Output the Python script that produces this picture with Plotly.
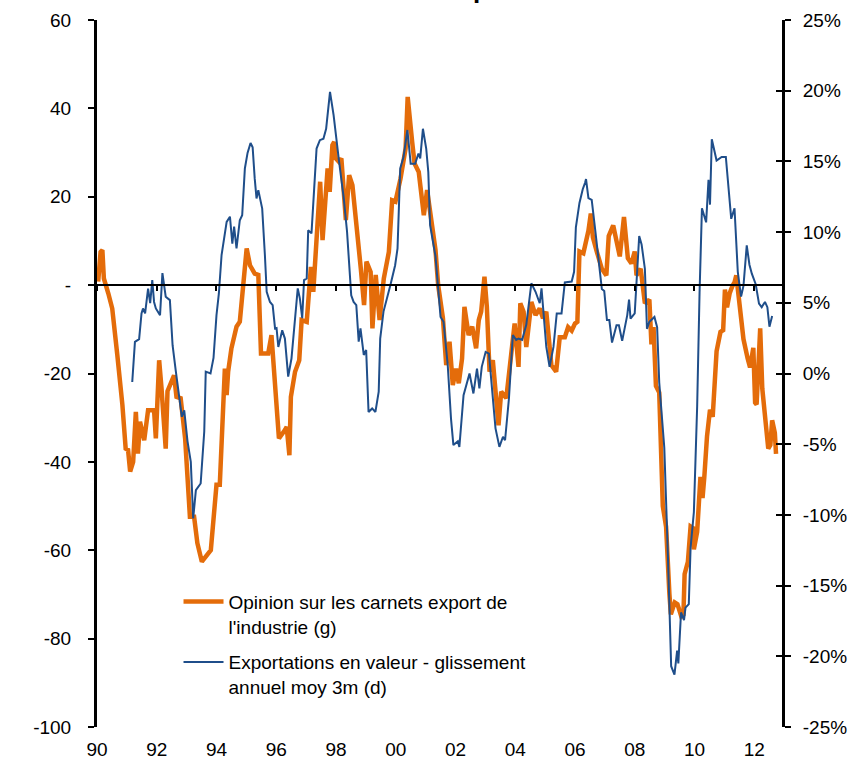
import plotly.graph_objects as go

# ---- Data (decimal years) ----
opinion_years = [1990.04, 1990.12, 1990.18, 1990.23, 1990.38, 1990.51, 1990.68, 1990.85, 1990.96, 1991.04,
    1991.11, 1991.21, 1991.30, 1991.37, 1991.44, 1991.58, 1991.71, 1991.91, 1991.97, 1992.08,
    1992.16, 1992.30, 1992.36, 1992.58, 1992.66, 1992.80, 1992.95, 1993.11, 1993.25, 1993.36,
    1993.51, 1993.70, 1993.81, 1994.00, 1994.11, 1994.28, 1994.34, 1994.39, 1994.50, 1994.67,
    1994.78, 1995.01, 1995.12, 1995.28, 1995.40, 1995.49, 1995.73, 1995.84, 1995.98, 1996.09,
    1996.29, 1996.35, 1996.44, 1996.49, 1996.63, 1996.77, 1996.85, 1997.02, 1997.16, 1997.24,
    1997.47, 1997.55, 1997.72, 1997.79, 1997.88, 1997.94, 1997.99, 1998.10, 1998.18, 1998.33,
    1998.44, 1998.55, 1998.83, 1998.94, 1999.02, 1999.16, 1999.22, 1999.33, 1999.46, 1999.60,
    1999.77, 1999.88, 1999.99, 2000.16, 2000.33, 2000.40, 2000.55, 2000.63, 2000.77, 2000.94,
    2001.05, 2001.22, 2001.33, 2001.42, 2001.58, 2001.69, 2001.80, 2001.91, 2002.02, 2002.11,
    2002.22, 2002.30, 2002.44, 2002.56, 2002.69, 2002.78, 2002.86, 2002.97, 2003.05, 2003.14,
    2003.25, 2003.44, 2003.53, 2003.70, 2003.83, 2003.98, 2004.11, 2004.17, 2004.28, 2004.37,
    2004.54, 2004.68, 2004.82, 2004.93, 2005.04, 2005.21, 2005.37, 2005.49, 2005.66, 2005.77,
    2005.89, 2006.00, 2006.08, 2006.15, 2006.28, 2006.45, 2006.53, 2006.60, 2006.73, 2006.90,
    2007.05, 2007.13, 2007.28, 2007.39, 2007.50, 2007.64, 2007.77, 2007.89, 2008.00, 2008.06,
    2008.20, 2008.34, 2008.49, 2008.56, 2008.63, 2008.71, 2008.82, 2008.94, 2009.05, 2009.16,
    2009.21, 2009.34, 2009.43, 2009.56, 2009.63, 2009.67, 2009.78, 2009.87, 2009.96, 2009.98,
    2010.09, 2010.20, 2010.27, 2010.33, 2010.42, 2010.52, 2010.61, 2010.74, 2010.87, 2010.96,
    2011.02, 2011.09, 2011.18, 2011.27, 2011.34, 2011.40, 2011.48, 2011.56, 2011.64, 2011.78,
    2011.86, 2011.97, 2012.03, 2012.08, 2012.20, 2012.27, 2012.36, 2012.47, 2012.54, 2012.60,
    2012.69, 2012.73]
opinion_values = [0.8, 7.5, 7.9, 1.5, -1.9, -5.3, -15.8, -27.1, -37.0, -37.3,
    -42.2, -40.0, -28.7, -38.1, -30.9, -35.1, -28.3, -28.3, -34.7, -17.0,
    -23.4, -37.0, -24.0, -20.4, -25.3, -25.6, -34.7, -52.4, -52.4, -58.4,
    -62.6, -60.7, -60.0, -45.2, -45.2, -18.9, -24.9, -19.6, -14.3, -9.4,
    -8.3, 8.3, 4.5, 2.6, 2.3, -15.5, -15.5, -11.3, -25.6, -34.7,
    -32.8, -32.1, -38.5, -25.3, -19.6, -17.0, -7.9, -8.3, 4.1, -1.5,
    23.4, 10.2, 26.4, 21.1, 31.7, 32.4, 28.7, 27.9, 28.7, 14.7,
    24.9, 22.6, 3.8, -4.5, 5.3, 3.0, -9.8, 2.3, -7.9, 1.5,
    7.5, 19.2, 18.9, 24.1, 30.9, 42.6, 32.4, 27.5, 25.6, 15.8,
    21.5, 13.6, 8.0, 0.0, -7.5, -18.1, -12.8, -22.6, -18.9, -22.2,
    -16.6, -4.9, -11.3, -9.4, -14.3, -7.9, -6.0, 1.9, -4.9, -19.6,
    -17.0, -31.7, -24.1, -25.6, -16.6, -8.7, -18.5, -4.1, -6.0, -14.0,
    -3.8, -6.8, -5.3, -7.5, -6.0, -18.1, -19.6, -11.8, -11.8, -9.5,
    -10.3, -8.7, -8.3, 7.6, 7.2, 12.3, 16.2, 10.8, 7.6, 3.7,
    2.2, 11.1, 13.5, 10.4, 6.5, 15.4, 6.1, 4.9, 7.6, 2.2,
    3.7, -4.1, -3.3, -13.4, -9.5, -22.8, -24.3, -50.0, -54.7, -69.8,
    -74.5, -71.8, -72.2, -75.0, -74.6, -65.4, -62.6, -54.6, -55.0, -59.8,
    -55.8, -43.4, -48.2, -43.4, -34.2, -28.2, -29.8, -15.0, -10.6, -10.2,
    -1.0, -5.0, -1.8, -0.2, 0.6, 2.2, -2.2, -7.0, -12.2, -16.6,
    -18.6, -14.2, -26.6, -27.0, -9.8, -23.4, -29.8, -37.0, -36.2, -30.6,
    -33.4, -38.2]

export_years = [1991.18, 1991.27, 1991.41, 1991.49, 1991.54, 1991.61, 1991.71, 1991.78, 1991.85, 1991.91,
    1991.97, 1992.11, 1992.19, 1992.30, 1992.44, 1992.53, 1992.64, 1992.77, 1992.84, 1992.92,
    1993.03, 1993.14, 1993.22, 1993.31, 1993.47, 1993.59, 1993.64, 1993.80, 1993.90, 1994.00,
    1994.08, 1994.17, 1994.34, 1994.45, 1994.53, 1994.59, 1994.67, 1994.78, 1994.86, 1994.95,
    1995.04, 1995.14, 1995.21, 1995.28, 1995.34, 1995.40, 1995.53, 1995.62, 1995.68, 1995.79,
    1995.88, 1995.96, 1996.01, 1996.07, 1996.20, 1996.29, 1996.40, 1996.51, 1996.63, 1996.72,
    1996.79, 1996.87, 1996.93, 1997.02, 1997.07, 1997.18, 1997.27, 1997.35, 1997.46, 1997.58,
    1997.67, 1997.80, 1997.92, 1998.02, 1998.09, 1998.26, 1998.37, 1998.51, 1998.59, 1998.68,
    1998.76, 1998.82, 1998.93, 1999.01, 1999.09, 1999.21, 1999.32, 1999.43, 1999.48, 1999.59,
    1999.70, 1999.82, 1999.98, 2000.06, 2000.15, 2000.26, 2000.39, 2000.50, 2000.65, 2000.76,
    2000.82, 2000.91, 2001.02, 2001.09, 2001.15, 2001.33, 2001.50, 2001.60, 2001.74, 2001.85,
    2001.93, 2002.08, 2002.13, 2002.27, 2002.47, 2002.60, 2002.72, 2002.80, 2002.88, 2003.01,
    2003.12, 2003.20, 2003.34, 2003.47, 2003.59, 2003.66, 2003.79, 2003.92, 2004.03, 2004.11,
    2004.23, 2004.37, 2004.54, 2004.68, 2004.82, 2004.88, 2004.98, 2005.04, 2005.15, 2005.28,
    2005.39, 2005.55, 2005.66, 2005.89, 2005.97, 2006.03, 2006.15, 2006.26, 2006.34, 2006.37,
    2006.45, 2006.56, 2006.68, 2006.79, 2006.90, 2006.98, 2007.07, 2007.15, 2007.24, 2007.39,
    2007.47, 2007.58, 2007.75, 2007.81, 2007.86, 2008.00, 2008.15, 2008.23, 2008.34, 2008.41,
    2008.49, 2008.66, 2008.75, 2008.82, 2008.99, 2009.11, 2009.22, 2009.33, 2009.42, 2009.46,
    2009.55, 2009.65, 2009.70, 2009.81, 2009.87, 2009.98, 2010.09, 2010.17, 2010.25, 2010.39,
    2010.47, 2010.52, 2010.58, 2010.74, 2010.91, 2011.05, 2011.13, 2011.23, 2011.34, 2011.45,
    2011.56, 2011.64, 2011.75, 2011.84, 2011.92, 2012.05, 2012.16, 2012.25, 2012.36, 2012.44,
    2012.51, 2012.60]
export_values = [-0.6, 2.24, 2.43, 4.25, 4.6, 4.25, 6.0, 4.97, 6.6, 5.06,
    4.6, 4.13, 7.1, 5.43, 5.19, 2.0, 0.13, -1.75, -3.06, -2.6,
    -4.8, -6.25, -10.25, -8.25, -7.78, -4.1, 0.13, 0.0, 1.1, 4.13,
    5.66, 8.38, 10.72, 11.09, 9.19, 10.38, 8.84, 10.84, 11.19, 14.5,
    15.6, 16.3, 16.0, 13.78, 12.38, 12.97, 11.66, 8.38, 5.78, 5.06,
    4.84, 3.19, 3.22, 1.88, 3.06, 2.47, -0.22, 1.06, 4.13, 6.02,
    5.31, 3.91, 6.6, 6.72, 10.13, 9.91, 13.09, 15.91, 16.5, 16.6,
    17.3, 19.91, 18.28, 16.38, 15.22, 12.38, 10.03, 5.53, 5.06, 4.84,
    2.25, 3.19, 1.31, 1.66, -2.72, -2.47, -2.72, -1.28, 2.47, 4.38,
    5.19, 6.25, 7.66, 8.84, 14.5, 15.31, 17.22, 14.84, 14.84, 15.56,
    15.22, 17.31, 15.91, 14.25, 10.5, 8.3, 4.0, 3.66, 0.6, -3.19,
    -5.06, -4.8, -5.19, -1.53, 0.0, -1.41, 0.34, -1.06, 0.47, 1.53,
    1.41, -0.34, -3.88, -5.19, -4.47, -4.72, -1.75, 2.72, 2.38, 2.47,
    2.38, 3.44, 6.38, 5.78, 4.97, 6.02, 3.66, 1.88, 0.47, 1.88,
    4.25, 4.25, 6.44, 6.5, 7.19, 10.34, 12.06, 13.03, 13.5, 13.75,
    12.41, 12.28, 10.1, 7.91, 5.97, 5.84, 3.78, 3.78, 2.19, 3.41,
    3.41, 2.31, 4.13, 5.22, 3.88, 4.25, 9.72, 9.13, 7.41, 3.16,
    3.66, 4.0, 3.28, -0.62, -5.25, -12.8, -20.7, -21.3, -19.6, -20.5,
    -16.9, -17.44, -16.56, -16.31, -12.31, -9.81, -2.31, 5.69, 11.69, 10.69,
    13.69, 11.94, 16.56, 15.06, 15.31, 15.31, 13.19, 10.94, 11.69, 7.19,
    5.44, 6.19, 9.06, 7.69, 7.06, 6.31, 4.94, 4.69, 5.06, 4.69,
    3.31, 4.06]

x_tick_years = [1990, 1992, 1994, 1996, 1998, 2000, 2002, 2004, 2006, 2008, 2010, 2012]
x_tick_labels = ["90", "92", "94", "96", "98", "00", "02", "04", "06", "08", "10", "12"]
left_tick_vals = [60, 40, 20, 0, -20, -40, -60, -80, -100]
left_tick_text = ["60", "40", "20", "-", "-20", "-40", "-60", "-80", "-100"]
right_tick_vals = [25, 20, 15, 10, 5, 0, -5, -10, -15, -20, -25]
right_tick_text = ["25%", "20%", "15%", "10%", "5%", "0%", "-5%", "-10%", "-15%", "-20%", "-25%"]

name_opinion = "Opinion sur les carnets export de<br>l'industrie (g)"
name_export = "Exportations en valeur - glissement<br>annuel moy 3m (d)"

ORANGE = "#E46C0A"
BLUE = "#1F4E8A"
FONT = "Liberation Sans, Arial, sans-serif"
FS = 19
X_RANGE = [1990, 2012.93]
LEFT_RANGE = [-100, 60]
RIGHT_RANGE = [-25, 25]

fig = go.Figure()
fig.add_trace(go.Scatter(x=opinion_years, y=opinion_values, name=name_opinion, mode="lines",
                         line=dict(color=ORANGE, width=4.5), xaxis="x", yaxis="y",
                         legendgroup="a"))
fig.add_trace(go.Scatter(x=export_years, y=export_values, name=name_export, mode="lines",
                         line=dict(color=BLUE, width=2), xaxis="x", yaxis="y2",
                         legendgroup="b"))
# helper (no visible data) so the decorative zero-line axis and cross ticks are drawn
fig.add_trace(go.Scatter(x=X_RANGE, y=[None, None], mode="lines", showlegend=False,
                         hoverinfo="skip", xaxis="x2", yaxis="y3"))

zero_pos = (0 - LEFT_RANGE[0]) / (LEFT_RANGE[1] - LEFT_RANGE[0])

fig.update_layout(
    width=859, height=763,
    margin=dict(l=97, r=77, t=20, b=36, autoexpand=False),
    paper_bgcolor="white", plot_bgcolor="white",
    font=dict(family=FONT, size=FS, color="black"),
    showlegend=True,
    legend=dict(x=0.119, y=0.204, xanchor="left", yanchor="top",
                bgcolor="rgba(0,0,0,0)", font=dict(size=FS, family=FONT),
                tracegroupgap=8, valign="top", itemwidth=40),
    xaxis=dict(range=X_RANGE, showgrid=False, zeroline=False, showline=False,
               tickvals=x_tick_years, ticktext=x_tick_labels, ticks="",
               ticklabelstandoff=9, tickfont=dict(size=FS), automargin=False),
    xaxis2=dict(matches="x", overlaying="x", anchor="free", position=zero_pos,
                range=X_RANGE, showgrid=False, zeroline=False, showline=True,
                linecolor="black", linewidth=2, tickvals=x_tick_years, ticks="outside",
                ticklen=5, tickwidth=2, tickcolor="black", showticklabels=False,
                automargin=False),
    yaxis=dict(range=LEFT_RANGE, showgrid=False, zeroline=False, showline=True,
               linecolor="black", linewidth=3, tickvals=left_tick_vals, ticktext=left_tick_text,
               ticks="outside", ticklen=6, tickwidth=2, tickcolor="black",
               ticklabelstandoff=13, tickfont=dict(size=FS), automargin=False),
    yaxis2=dict(range=RIGHT_RANGE, overlaying="y", side="right", anchor="x",
                showgrid=False, zeroline=False, showline=True, linecolor="black",
                linewidth=3, tickvals=right_tick_vals, ticktext=right_tick_text,
                ticks="outside", ticklen=6, tickwidth=2, tickcolor="black",
                ticklabelstandoff=8, tickfont=dict(size=FS), automargin=False),
    yaxis3=dict(range=RIGHT_RANGE, overlaying="y", side="right", anchor="x2",
                showgrid=False, zeroline=False, showline=False, tickvals=right_tick_vals,
                ticks="inside", ticklen=6, tickwidth=2, tickcolor="black",
                showticklabels=False, automargin=False),
)

# truncated chart title at the very top (mostly outside the visible page)
fig.add_annotation(text="<b>Carnets export</b>", xref="paper", yref="paper",
                   x=0.489, y=1.0195, xanchor="center", yanchor="bottom",
                   showarrow=False, font=dict(size=26, family=FONT, color="black"))

# remove the default page margin so the figure sits at the window's top-left corner
fig.write_html("out.html", config={"displayModeBar": False},
               post_script="document.body.style.margin='0';")
